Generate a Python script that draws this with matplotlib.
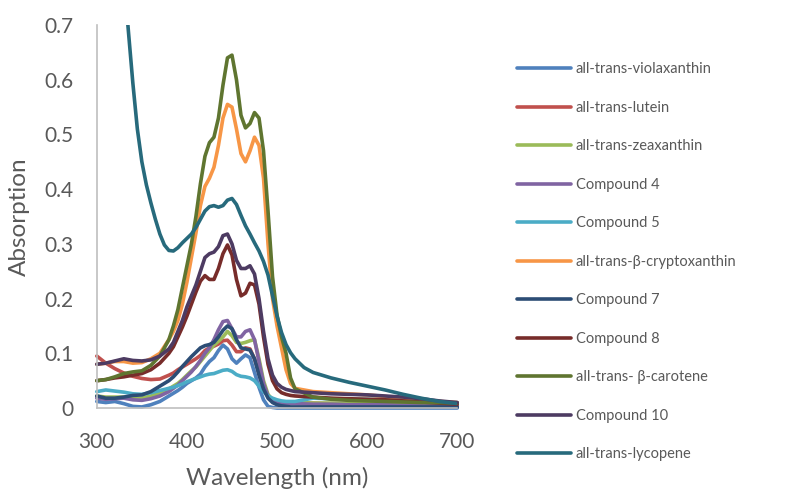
import numpy as np
import matplotlib
matplotlib.use("Agg")
import matplotlib.pyplot as plt

# wavelength grid (nm)
wavelength = [300, 310, 320, 330, 340, 350, 360, 370,
              380, 385, 390, 395, 400, 405, 410, 415, 420, 425, 430, 435, 440, 445,
              450, 455, 460, 465, 470, 475, 480, 485, 490, 495, 500, 505, 510, 515, 520,
              540, 560, 580, 600, 620, 640, 660, 680, 700]

violaxanthin = [0.012, 0.010, 0.012, 0.008, 0.003, 0.002, 0.006, 0.012,
                0.022, 0.027, 0.032, 0.038, 0.045, 0.050, 0.055, 0.062, 0.075, 0.085, 0.092, 0.105, 0.115, 0.108,
                0.090, 0.082, 0.090, 0.097, 0.092, 0.065, 0.038, 0.015, 0.003, 0.001, 0.000, 0.000, 0.000, 0.000, 0.000,
                0.000, 0.000, 0.000, 0.000, 0.000, 0.000, 0.000, 0.000, 0.000]
lutein = [0.095, 0.082, 0.072, 0.064, 0.058, 0.054, 0.052, 0.053,
          0.060, 0.064, 0.070, 0.075, 0.080, 0.085, 0.090, 0.096, 0.105, 0.110, 0.113, 0.117, 0.123, 0.124,
          0.115, 0.103, 0.103, 0.110, 0.108, 0.090, 0.065, 0.040, 0.022, 0.014, 0.012, 0.011, 0.010, 0.010, 0.010,
          0.009, 0.008, 0.008, 0.007, 0.007, 0.006, 0.006, 0.005, 0.005]
zeaxanthin = [0.022, 0.020, 0.020, 0.020, 0.018, 0.018, 0.022, 0.027,
              0.035, 0.040, 0.045, 0.052, 0.060, 0.068, 0.075, 0.085, 0.095, 0.105, 0.115, 0.122, 0.130, 0.140,
              0.132, 0.120, 0.118, 0.120, 0.123, 0.125, 0.090, 0.050, 0.025, 0.015, 0.012, 0.011, 0.010, 0.010, 0.010,
              0.009, 0.009, 0.008, 0.008, 0.007, 0.007, 0.006, 0.006, 0.005]
compound4 = [0.018, 0.016, 0.017, 0.018, 0.015, 0.014, 0.017, 0.022,
             0.030, 0.036, 0.042, 0.050, 0.058, 0.066, 0.076, 0.087, 0.100, 0.110, 0.125, 0.143, 0.158, 0.160,
             0.145, 0.130, 0.130, 0.140, 0.143, 0.125, 0.085, 0.045, 0.022, 0.013, 0.010, 0.009, 0.008, 0.008, 0.008,
             0.007, 0.007, 0.006, 0.006, 0.006, 0.005, 0.005, 0.005, 0.005]
compound5 = [0.030, 0.033, 0.031, 0.029, 0.026, 0.025, 0.028, 0.032,
             0.036, 0.038, 0.041, 0.044, 0.048, 0.051, 0.054, 0.057, 0.060, 0.062, 0.063, 0.066, 0.069, 0.070,
             0.067, 0.061, 0.058, 0.057, 0.055, 0.050, 0.040, 0.030, 0.022, 0.018, 0.015, 0.013, 0.012, 0.012, 0.012,
             0.018, 0.017, 0.016, 0.016, 0.015, 0.014, 0.012, 0.011, 0.010]
cryptoxanthin = [0.080, 0.082, 0.085, 0.085, 0.082, 0.083, 0.090, 0.100,
                 0.125, 0.140, 0.160, 0.190, 0.230, 0.275, 0.320, 0.370, 0.405, 0.420, 0.440, 0.480, 0.530, 0.555,
                 0.550, 0.510, 0.465, 0.450, 0.470, 0.495, 0.480, 0.420, 0.300, 0.200, 0.150, 0.110, 0.070, 0.045, 0.036,
                 0.030, 0.028, 0.026, 0.024, 0.021, 0.018, 0.015, 0.012, 0.010]
compound7 = [0.022, 0.018, 0.018, 0.020, 0.023, 0.024, 0.030, 0.040,
             0.050, 0.057, 0.066, 0.076, 0.085, 0.094, 0.102, 0.110, 0.114, 0.116, 0.120, 0.130, 0.142, 0.150,
             0.145, 0.125, 0.110, 0.108, 0.106, 0.090, 0.060, 0.035, 0.018, 0.010, 0.006, 0.004, 0.003, 0.002, 0.002,
             0.002, 0.002, 0.002, 0.002, 0.002, 0.002, 0.002, 0.002, 0.002]
compound8 = [0.050, 0.052, 0.055, 0.057, 0.060, 0.063, 0.070, 0.082,
             0.100, 0.112, 0.130, 0.148, 0.168, 0.190, 0.212, 0.232, 0.242, 0.235, 0.235, 0.255, 0.282, 0.298,
             0.280, 0.235, 0.205, 0.210, 0.228, 0.225, 0.190, 0.130, 0.080, 0.050, 0.035, 0.028, 0.025, 0.023, 0.022,
             0.020, 0.018, 0.017, 0.016, 0.015, 0.013, 0.011, 0.009, 0.007]
carotene = [0.050, 0.052, 0.057, 0.063, 0.066, 0.068, 0.078, 0.095,
            0.125, 0.150, 0.180, 0.220, 0.260, 0.300, 0.350, 0.410, 0.460, 0.485, 0.495, 0.530, 0.590, 0.640,
            0.645, 0.600, 0.535, 0.512, 0.520, 0.540, 0.530, 0.470, 0.360, 0.240, 0.170, 0.130, 0.100, 0.055, 0.035,
            0.020, 0.016, 0.014, 0.013, 0.012, 0.011, 0.010, 0.010, 0.009]
compound10 = [0.080, 0.082, 0.086, 0.090, 0.087, 0.086, 0.088, 0.095,
              0.108, 0.120, 0.140, 0.160, 0.185, 0.205, 0.225, 0.250, 0.275, 0.282, 0.285, 0.295, 0.315, 0.318,
              0.300, 0.270, 0.255, 0.255, 0.260, 0.245, 0.200, 0.140, 0.090, 0.060, 0.045, 0.038, 0.034, 0.032, 0.030,
              0.028, 0.026, 0.025, 0.024, 0.022, 0.020, 0.017, 0.013, 0.010]

# lycopene read on a finer grid where it curves
lycopene_wl = [300, 310, 320, 330, 335, 340, 345, 350, 355, 360, 365, 370, 375,
               380, 385, 390, 395, 400, 405, 410, 415, 420, 425, 430, 435, 440, 445,
               450, 455, 460, 465, 470, 475, 480, 485, 490, 495, 500, 505, 510, 515, 520,
               530, 540, 560, 580, 600, 620, 640, 660, 680, 700]
lycopene = [1.200, 1.000, 0.860, 0.790, 0.690, 0.594, 0.510, 0.450, 0.408, 0.375, 0.345, 0.318, 0.298,
            0.288, 0.287, 0.293, 0.302, 0.310, 0.318, 0.330, 0.345, 0.360, 0.368, 0.370, 0.367, 0.370, 0.380,
            0.383, 0.372, 0.352, 0.333, 0.318, 0.302, 0.287, 0.268, 0.243, 0.205, 0.168, 0.138, 0.116, 0.101, 0.090,
            0.074, 0.065, 0.055, 0.047, 0.040, 0.033, 0.025, 0.018, 0.012, 0.008]

series = [
    ("all-trans-violaxanthin", wavelength, violaxanthin, "#4F81BD"),
    ("all-trans-lutein", wavelength, lutein, "#C0504D"),
    ("all-trans-zeaxanthin", wavelength, zeaxanthin, "#9BBB59"),
    ("Compound 4", wavelength, compound4, "#8064A2"),
    ("Compound 5", wavelength, compound5, "#4BACC6"),
    ("all-trans-\u03b2-cryptoxanthin", wavelength, cryptoxanthin, "#F79646"),
    ("Compound 7", wavelength, compound7, "#2C4D75"),
    ("Compound 8", wavelength, compound8, "#772C2A"),
    ("all-trans- \u03b2-carotene", wavelength, carotene, "#5F7530"),
    ("Compound 10", wavelength, compound10, "#4D3B62"),
    ("all-trans-lycopene", lycopene_wl, lycopene, "#276A7C"),
]

plt.rcParams['font.family'] = ['Lato', 'DejaVu Sans']
grey = "#595959"

fig = plt.figure(figsize=(7.87, 4.91), dpi=100)
ax = fig.add_axes([0.123, 0.169, 0.458, 0.780])

for name, x, vals, col in series:
    ax.plot(x, vals, color=col, lw=2.6, label=name,
            solid_capstyle='round', solid_joinstyle='round',
            clip_on=(name == "all-trans-lycopene"))

ax.set_xlim(300, 700)
ax.set_ylim(0, 0.7)
ax.set_xticks([300, 400, 500, 600, 700])
ax.set_yticks([0, 0.1, 0.2, 0.3, 0.4, 0.5, 0.6, 0.7])
ax.set_yticklabels(["0", "0.1", "0.2", "0.3", "0.4", "0.5", "0.6", "0.7"])
ax.tick_params(length=0, labelsize=15, labelcolor=grey)
ax.tick_params(axis='y', pad=17)
ax.tick_params(axis='x', pad=17)
for s in ["top", "right"]:
    ax.spines[s].set_visible(False)
for s in ["left", "bottom"]:
    ax.spines[s].set_color("#BFBFBF")
    ax.spines[s].set_linewidth(1.2)

ax.set_xlabel("Wavelength (nm)", fontsize=17.5, color=grey, labelpad=11)
ax.set_ylabel("Absorption", fontsize=17.5, color=grey, labelpad=10)

fig.legend(loc="upper left", bbox_to_anchor=(0.650, 0.885), frameon=False,
           fontsize=10.5, labelcolor=grey, handlelength=3.65, handletextpad=0.35,
           labelspacing=1.68, borderaxespad=0)

fig.savefig("out.png", dpi=100)
